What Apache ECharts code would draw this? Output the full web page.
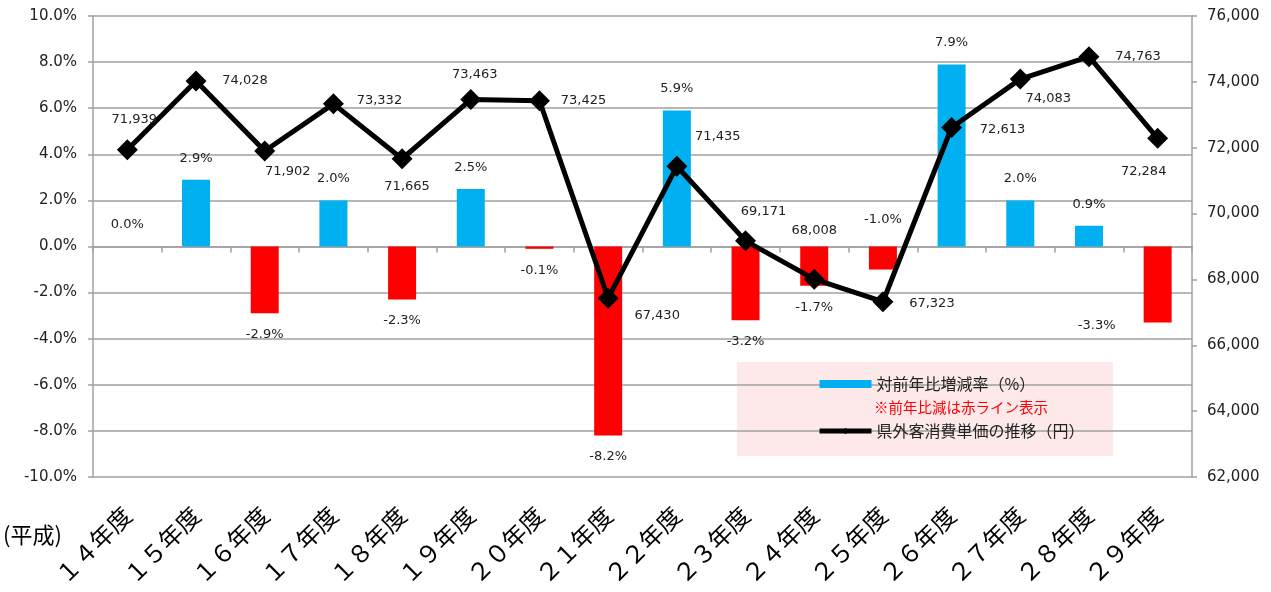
<!DOCTYPE html>
<html>
<head>
<meta charset="utf-8">
<script src="https://cdn.jsdelivr.net/npm/echarts@6/dist/echarts.min.js"></script>
<style>
html,body{margin:0;padding:0;background:#fff;}
#chart{width:1271px;height:592px;}
</style>
</head>
<body>
<div id="chart"></div>
<script>
// ---- data ----
const categories = ['１４年度','１５年度','１６年度','１７年度','１８年度','１９年度','２０年度','２１年度','２２年度','２３年度','２４年度','２５年度','２６年度','２７年度','２８年度','２９年度'];
const changeRate = [0.0, 2.9, -2.9, 2.0, -2.3, 2.5, -0.1, -8.2, 5.9, -3.2, -1.7, -1.0, 7.9, 2.0, 0.9, -3.3];
const unitPrice = [71939, 74028, 71902, 73332, 71665, 73463, 73425, 67430, 71435, 69171, 68008, 67323, 72613, 74083, 74763, 72284];
const leftTicks = { min: -10, max: 10, interval: 2 };
const rightTicks = { min: 62000, max: 76000, interval: 2000 };
const barName = '対前年比増減率（%）';
const lineName = '県外客消費単価の推移（円）';
const noteText = '※前年比減は赤ライン表示';
const eraText = '(平成)';

// ---- label placement (style) ----
const barLabelOverride = { 11: { position: 'top', offset: [0, -5] }, 15: { position: 'bottom', offset: [-61, -18] } };
const lineLabelOffsets = [[7,-30],[49,0],[23,21],[46,-3],[5,28],[4,-25],[44,0],[49,17],[41,-30],[18,-29],[0,-49],[49,2],[51,2],[28,20],[49,0],[-14,33]];

const BLUE = '#00B0F0', RED = '#FF0000', GRID = '#a0a0a0';
const numFont = 'DejaVu Sans';
const cjkFont = 'Noto Sans CJK JP';

const barData = changeRate.map((v, i) => {
  const o = barLabelOverride[i] || {};
  return {
    value: v,
    itemStyle: { color: v < 0 ? RED : BLUE },
    label: { position: o.position || (v < 0 ? 'bottom' : 'top'), offset: o.offset || [0, 0] }
  };
});
const lineData = unitPrice.map((v, i) => ({ value: v, label: { offset: lineLabelOffsets[i] } }));

const chart = echarts.init(document.getElementById('chart'), null, { renderer: 'canvas' });
chart.setOption({
  animation: false,
  grid: { left: 93, right: 79, top: 16, bottom: 115, containLabel: false },
  xAxis: [
    {
      type: 'category', data: categories, position: 'bottom',
      axisLine: { show: false, onZero: false }, axisTick: { show: false },
      axisLabel: { rotate: 45, margin: 34, fontSize: 24, fontFamily: cjkFont, color: '#000', interval: 0 },
      splitLine: { show: false }
    },
    {
      type: 'category', data: categories, position: 'top',
      axisLine: { show: true, onZero: true, onZeroAxisIndex: 0, lineStyle: { color: GRID, width: 1.5 } },
      axisTick: { show: true, inside: true, length: 6, lineStyle: { color: GRID, width: 1.5 } },
      axisLabel: { show: false }, splitLine: { show: false }
    }
  ],
  yAxis: [
    {
      type: 'value', min: leftTicks.min, max: leftTicks.max, interval: leftTicks.interval,
      axisLine: { show: true, lineStyle: { color: GRID, width: 1.5 } },
      axisTick: { show: true, length: 5, lineStyle: { color: GRID, width: 1.5 } },
      splitLine: { show: true, lineStyle: { color: GRID, width: 1.5 } },
      axisLabel: { margin: 16, fontSize: 15, fontFamily: numFont, color: '#222', formatter: v => v.toFixed(1) + '%' }
    },
    {
      type: 'value', min: rightTicks.min, max: rightTicks.max, interval: rightTicks.interval, position: 'right',
      axisLine: { show: true, lineStyle: { color: GRID, width: 1.5 } },
      axisTick: { show: true, length: 5, lineStyle: { color: GRID, width: 1.5 } },
      splitLine: { show: false },
      axisLabel: { margin: 15, fontSize: 15, fontFamily: numFont, color: '#222', formatter: v => v.toLocaleString('en-US') }
    }
  ],
  legend: {
    orient: 'vertical', left: 812, top: 371, itemGap: 31, itemWidth: 52, itemHeight: 8,
    textStyle: { fontSize: 16, fontFamily: cjkFont, color: '#222' },
    lineStyle: { width: 5 },
    data: [ { name: barName, icon: 'rect' }, { name: lineName } ]
  },
  graphic: [
    { type: 'rect', left: 737, top: 362, z: -1, shape: { width: 376, height: 94 }, style: { fill: '#fde9e9' } },
    { type: 'text', left: 874, top: 400, z: 10, style: { text: noteText, fill: RED, font: '14.5px "Noto Sans CJK JP"' } },
    { type: 'text', left: 3, top: 524, style: { text: eraText, fill: '#000', font: '22px "Noto Sans CJK JP"' } }
  ],
  series: [
    {
      name: barName, type: 'bar', xAxisIndex: 0, yAxisIndex: 0, barWidth: 28,
      itemStyle: { color: BLUE }, data: barData,
      label: { show: true, distance: 15, fontSize: 13, fontFamily: numFont, color: '#222', formatter: p => p.value.toFixed(1) + '%' }
    },
    {
      name: lineName, type: 'line', xAxisIndex: 0, yAxisIndex: 1, data: lineData,
      symbol: 'diamond', symbolSize: 21,
      lineStyle: { color: '#000', width: 5 }, itemStyle: { color: '#000' },
      label: { show: true, position: 'inside', fontSize: 13, fontFamily: numFont, color: '#222', formatter: p => p.value.toLocaleString('en-US') },
      z: 3
    }
  ]
});
</script>
</body>
</html>
